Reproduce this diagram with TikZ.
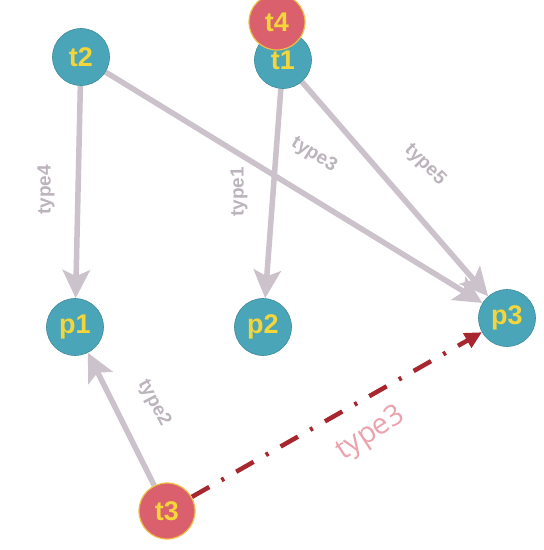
\documentclass[tikz,border=0pt]{standalone}
\usepackage{fontspec}
\setmainfont{Liberation Sans}
\newfontfamily\pinkfont{Open Sans}
\usetikzlibrary{arrows.meta}
\definecolor{teal1}{HTML}{4AA5B8}
\definecolor{red1}{HTML}{D9606C}
\definecolor{yel}{HTML}{F4D63A}
\definecolor{edgec}{HTML}{CBC2CC}
\definecolor{labc}{HTML}{BCB4BC}
\definecolor{darkred}{HTML}{A8262E}
\definecolor{pinklab}{HTML}{EBA3AD}
\pgfdeclarelayer{bgfill}
\pgfdeclarelayer{edges}
\pgfsetlayers{bgfill,edges,main}
\tikzset{
  pnode/.style={circle, fill=teal1, draw=teal1!85!black, line width=0.6pt, minimum size=57pt, inner sep=0pt, text=yel, font=\fontsize{27}{27}\selectfont\bfseries},
  rnode/.style={circle, fill=red1, draw=yel!80!red1, line width=1.2pt, minimum size=56pt, inner sep=0pt, text=yel, font=\fontsize{27}{27}\selectfont\bfseries},
  gedge/.style={draw=edgec, line width=5.5pt, -{Stealth[length=28pt,width=27pt,inset=6pt]}},
  redge/.style={draw=darkred, line width=4.5pt, dash pattern=on 20pt off 14pt on 3pt off 14pt, -{Triangle[length=17pt,width=16pt]}},
  elab/.style={text=labc, font=\fontsize{19}{19}\selectfont\bfseries, inner sep=1pt},
  rlab/.style={text=pinklab, font=\pinkfont\fontsize{29}{29}\selectfont, inner sep=1pt},
}
\begin{document}
\begin{tikzpicture}[x=1pt,y=-1pt]
\useasboundingbox (0,0) rectangle (544,550);
\begin{pgfonlayer}{bgfill}
\fill[white] (0,0) rectangle (544,550);
\end{pgfonlayer}
% nodes
\node[pnode] (t2) at (81,57) {t2};
\node[pnode] (t1) at (283,60) {t1};
\node[rnode] (t4) at (277,22) {t4};
\node[pnode] (p1) at (75,327) {p1};
\node[pnode] (p2) at (263,327) {p2};
\node[pnode] (p3) at (507,318) {p3};
\node[rnode] (t3) at (167,511) {t3};
% edges
\begin{pgfonlayer}{edges}
\draw[gedge] (t2) -- (p1);
\draw[gedge] (t2) -- (p3);
\draw[gedge] (t1) -- (p2);
\draw[gedge] (t1) -- (p3);
\draw[gedge] (t3) -- (p1);
\draw[redge] (t3) -- (p3);
\end{pgfonlayer}
% labels
\node[elab, rotate=90] (l4) at (46,190) {type4};
\node[elab, rotate=90] (l1) at (239,192) {type1};
\node[elab, rotate=-32] (l3) at (314,155) {type3};
\node[elab, rotate=-45] (l5) at (425,165) {type5};
\node[elab, rotate=-62] (l2) at (154,403) {type2};
\node[rlab, rotate=33] (l3r) at (371,434) {type3};
\end{tikzpicture}
\end{document}
